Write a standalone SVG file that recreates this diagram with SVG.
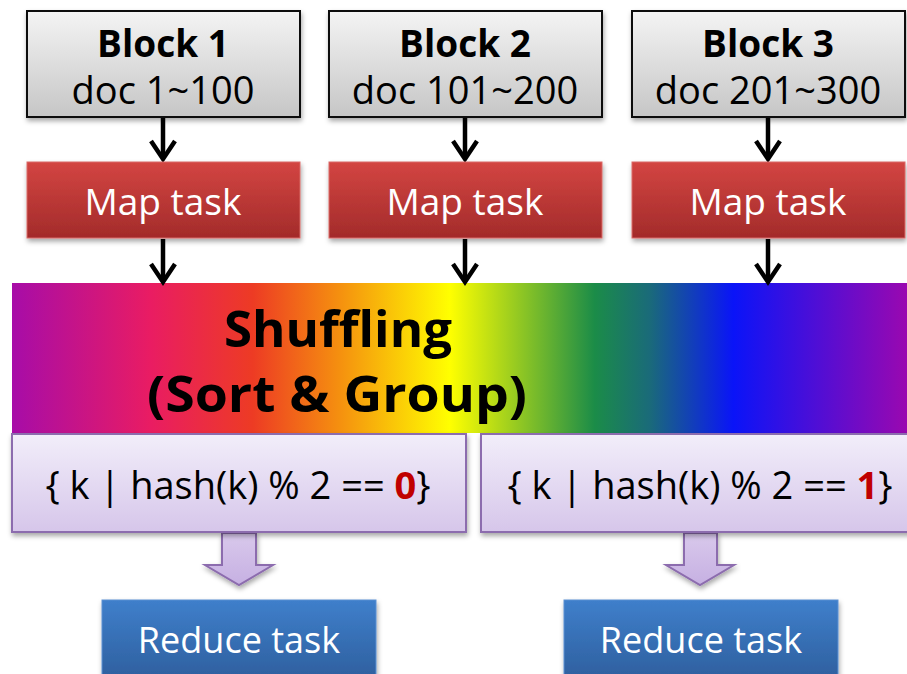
<svg xmlns="http://www.w3.org/2000/svg" width="907" height="674" viewBox="0 0 907 674">
<defs>
<linearGradient id="gGray" x1="0" y1="0" x2="0" y2="1"><stop offset="0" stop-color="#f4f4f4"/><stop offset="1" stop-color="#c6c6c6"/></linearGradient>
<linearGradient id="gRed" x1="0" y1="0" x2="0" y2="1"><stop offset="0" stop-color="#d34542"/><stop offset="1" stop-color="#a32b2a"/></linearGradient>
<linearGradient id="gBlue" x1="0" y1="0" x2="0" y2="1"><stop offset="0" stop-color="#3f7fcb"/><stop offset="1" stop-color="#2e5f9e"/></linearGradient>
<linearGradient id="gLav" x1="0" y1="0" x2="0" y2="1"><stop offset="0" stop-color="#f2eefa"/><stop offset="1" stop-color="#d6c6ea"/></linearGradient>
<linearGradient id="gLavArrow" x1="0" y1="0" x2="0" y2="1"><stop offset="0" stop-color="#d9c9ec"/><stop offset="1" stop-color="#c6b0e2"/></linearGradient>
<linearGradient id="gRainbow" gradientUnits="userSpaceOnUse" x1="12" y1="0" x2="907" y2="0">
<stop offset="0" stop-color="#a70ca8"/>
<stop offset="0.154" stop-color="#e91c63"/>
<stop offset="0.269" stop-color="#ed3b24"/>
<stop offset="0.366" stop-color="#f5900f"/>
<stop offset="0.489" stop-color="#ffff00"/>
<stop offset="0.651" stop-color="#1b8c48"/>
<stop offset="0.713" stop-color="#1a6a7a"/>
<stop offset="0.806" stop-color="#0a14f8"/>
<stop offset="1" stop-color="#9a08b0"/>
</linearGradient>
<filter id="sh" x="-10%" y="-10%" width="120%" height="130%"><feDropShadow dx="1" dy="3" stdDeviation="2.5" flood-color="#000" flood-opacity="0.35"/></filter>
</defs>
<style>
.t{font-family:"Open Sans","Noto Sans","Liberation Sans",sans-serif;text-anchor:middle}
.blk{fill:url(#gGray);stroke:#111;stroke-width:2}
.map{fill:url(#gRed);stroke:#d96a66;stroke-width:1}
.red{fill:url(#gBlue);stroke:#5a90d2;stroke-width:1}
.lav{fill:url(#gLav);stroke:#8c6cae;stroke-width:2}
.bar{fill:url(#gLavArrow);stroke:#8c6cae;stroke-width:2}
.line{stroke:#000;stroke-width:4.5;fill:none}
.head{stroke:#000;stroke-width:4.5;fill:none;stroke-linejoin:miter;stroke-linecap:butt}
</style>
<rect x="0" y="0" width="907" height="674" fill="#fff"/>

<g id="band">
<rect x="12" y="283" width="895" height="150" fill="url(#gRainbow)"/>
<text class="t" x="338" y="347" font-size="50" font-weight="bold" fill="#000" textLength="228" lengthAdjust="spacingAndGlyphs">Shuffling</text>
<text class="t" x="337" y="412" font-size="50" font-weight="bold" fill="#000" textLength="380" lengthAdjust="spacingAndGlyphs">(Sort &amp; Group)</text>
</g>

<g id="connectors">
<line class="line" x1="163" y1="118" x2="163" y2="158"/>
<polyline class="head" points="151,141 163,159 175,141"/>
<line class="line" x1="465" y1="118" x2="465" y2="158"/>
<polyline class="head" points="453,141 465,159 477,141"/>
<line class="line" x1="768" y1="118" x2="768" y2="158"/>
<polyline class="head" points="756,141 768,159 780,141"/>
<line class="line" x1="163" y1="239" x2="163" y2="281"/>
<polyline class="head" points="151,264 163,282 175,264"/>
<line class="line" x1="465" y1="239" x2="465" y2="281"/>
<polyline class="head" points="453,264 465,282 477,264"/>
<line class="line" x1="768" y1="239" x2="768" y2="281"/>
<polyline class="head" points="756,264 768,282 780,264"/>
<path class="bar" filter="url(#sh)" d="M222,533 L256,533 L256,565 L273,565 L239,585 L205,565 L222,565 Z"/>
<path class="bar" filter="url(#sh)" d="M684,533 L717,533 L717,565 L734,565 L700,585 L666,565 L684,565 Z"/>
</g>

<g id="block1">
<rect class="blk" x="27" y="11" width="273" height="106" filter="url(#sh)"/>
<text class="t" x="163" y="57" font-size="37" font-weight="bold">Block 1</text>
<text class="t" x="163" y="104" font-size="38">doc 1~100</text>
</g>
<g id="block2">
<rect class="blk" x="329" y="11" width="273" height="106" filter="url(#sh)"/>
<text class="t" x="465" y="57" font-size="37" font-weight="bold">Block 2</text>
<text class="t" x="465" y="104" font-size="38">doc 101~200</text>
</g>
<g id="block3">
<rect class="blk" x="632" y="11" width="273" height="106" filter="url(#sh)"/>
<text class="t" x="768" y="57" font-size="37" font-weight="bold">Block 3</text>
<text class="t" x="768" y="104" font-size="38">doc 201~300</text>
</g>

<g id="map1">
<rect class="map" x="27" y="162" width="273" height="76" filter="url(#sh)"/>
<text class="t" x="163" y="215" font-size="37" fill="#fff">Map task</text>
</g>
<g id="map2">
<rect class="map" x="329" y="162" width="273" height="76" filter="url(#sh)"/>
<text class="t" x="465" y="215" font-size="37" fill="#fff">Map task</text>
</g>
<g id="map3">
<rect class="map" x="632" y="162" width="273" height="76" filter="url(#sh)"/>
<text class="t" x="768" y="215" font-size="37" fill="#fff">Map task</text>
</g>

<g id="hash0">
<rect class="lav" x="12" y="434" width="454" height="98" filter="url(#sh)"/>
<text class="t" x="238" y="499" font-size="38">{ k | hash(k) % 2 == <tspan font-weight="bold" fill="#c00000">0</tspan>}</text>
</g>
<g id="hash1">
<rect class="lav" x="481" y="434" width="440" height="98" filter="url(#sh)"/>
<text class="t" x="700" y="499" font-size="38">{ k | hash(k) % 2 == <tspan font-weight="bold" fill="#c00000">1</tspan>}</text>
</g>

<g id="reduce0">
<rect class="red" x="102" y="600" width="274" height="80" filter="url(#sh)"/>
<text class="t" x="239" y="653" font-size="36" fill="#fff">Reduce task</text>
</g>
<g id="reduce1">
<rect class="red" x="564" y="600" width="274" height="80" filter="url(#sh)"/>
<text class="t" x="701" y="653" font-size="36" fill="#fff">Reduce task</text>
</g>
</svg>
